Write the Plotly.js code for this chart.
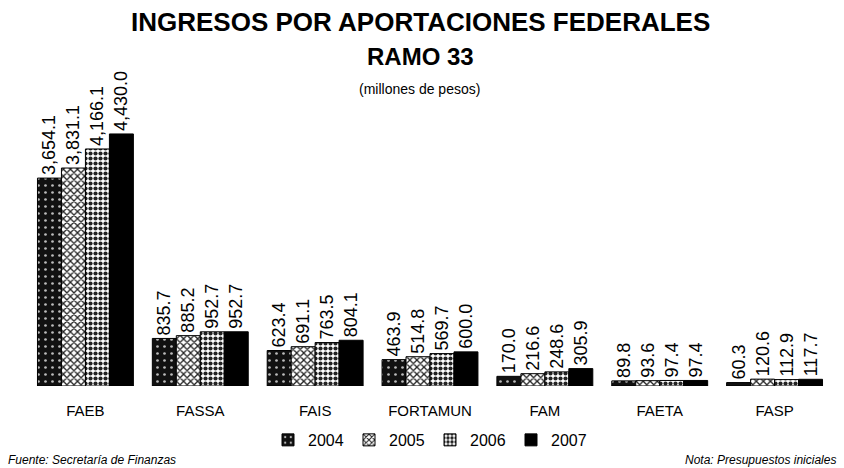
<!DOCTYPE html>
<html>
<head>
<meta charset="utf-8">
<script src="https://cdn.plot.ly/plotly-3.0.1.min.js"></script>
<style>html,body{margin:0;padding:0;background:#fff;}#chart{width:844px;height:468px;}</style>
</head>
<body>
<div id="chart"></div>
<script>
const categories = ["FAEB", "FASSA", "FAIS", "FORTAMUN", "FAM", "FAETA", "FASP"];
const years = ["2004", "2005", "2006", "2007"];
const v2004 = [3654.1, 835.7, 623.4, 463.9, 170.0, 89.8, 60.3];
const v2005 = [3831.1, 885.2, 691.1, 514.8, 216.6, 93.6, 120.6];
const v2006 = [4166.1, 952.7, 763.5, 569.7, 248.6, 97.4, 112.9];
const v2007 = [4430.0, 952.7, 804.1, 600.0, 305.9, 97.4, 117.7];
const series = [v2004, v2005, v2006, v2007];

const markers = [
  {color: "#111", line: {color: "#000", width: 1}, pattern: {shape: ".", fgcolor: "#bbb", bgcolor: "#111", size: 7, solidity: 0.12, fillmode: "replace"}},
  {color: "#fff", line: {color: "#000", width: 1}, pattern: {shape: "x", fgcolor: "#222", bgcolor: "#fff", size: 5, solidity: 0.45, fillmode: "replace"}},
  {color: "#fff", line: {color: "#000", width: 1}, pattern: {shape: ".", fgcolor: "#222", bgcolor: "#fff", size: 5, solidity: 0.55, fillmode: "replace"}},
  {color: "#000", line: {color: "#000", width: 1}}
];

const traces = series.map((vals, i) => ({
  type: "bar",
  name: years[i],
  x: categories,
  y: vals,
  marker: markers[i],
  texttemplate: "%{y:,.1f}",
  textposition: "outside",
  textangle: -90,
  constraintext: "none",
  cliponaxis: false,
  textfont: {family: "Liberation Sans, Arial, sans-serif", size: 18, color: "#000"},
  hoverinfo: "x+y"
}));

const layout = {
  width: 844, height: 468,
  margin: {l: 28, r: 12, t: 56, b: 81},
  paper_bgcolor: "#fff", plot_bgcolor: "#fff",
  barmode: "group", bargap: 0.165, bargroupgap: 0,
  font: {family: "Liberation Sans, Arial, sans-serif", color: "#000"},
  showlegend: true,
  legend: {orientation: "h", x: 0.5, xanchor: "center", y: -0.16, yanchor: "middle",
           font: {size: 16, color: "#000"}, itemwidth: 30, entrywidth: 36, entrywidthmode: "pixels", tracegroupgap: 0},
  xaxis: {showgrid: false, zeroline: false, showline: false, ticks: "",
          ticklabelstandoff: 14, tickfont: {size: 15, color: "#000"}},
  yaxis: {range: [0, 5800], visible: false, showgrid: false, zeroline: false},
  annotations: [
    {text: "<b>INGRESOS POR APORTACIONES FEDERALES</b>", showarrow: false, font: {size: 26}},
    {text: "<b>RAMO 33</b>", showarrow: false, font: {size: 24}},
    {text: "(millones de pesos)", showarrow: false, font: {size: 14}},
    {text: "<i>Fuente: Secretaría de Finanzas</i>", showarrow: false, font: {size: 12}},
    {text: "<i>Nota: Presupuestos iniciales</i>", showarrow: false, font: {size: 12}}
  ]
};

const plotW = 844 - 28 - 12, plotH = 468 - 56 - 81;
function px(x) { return (x - 28) / plotW; }
function py(y) { return (468 - 81 - y) / plotH; }
const pos = [[420, 22, "center"], [420, 57, "center"], [419, 89, "center"], [6, 461, "left"], [838, 461, "right"]];
layout.annotations.forEach((a, i) => {
  a.xref = "paper"; a.yref = "paper";
  a.x = px(pos[i][0]); a.y = py(pos[i][1]);
  a.xanchor = pos[i][2]; a.yanchor = "middle";
  a.font.color = "#000";
});

Plotly.newPlot("chart", traces, layout, {displayModeBar: false, staticPlot: true});
</script>
</body>
</html>
